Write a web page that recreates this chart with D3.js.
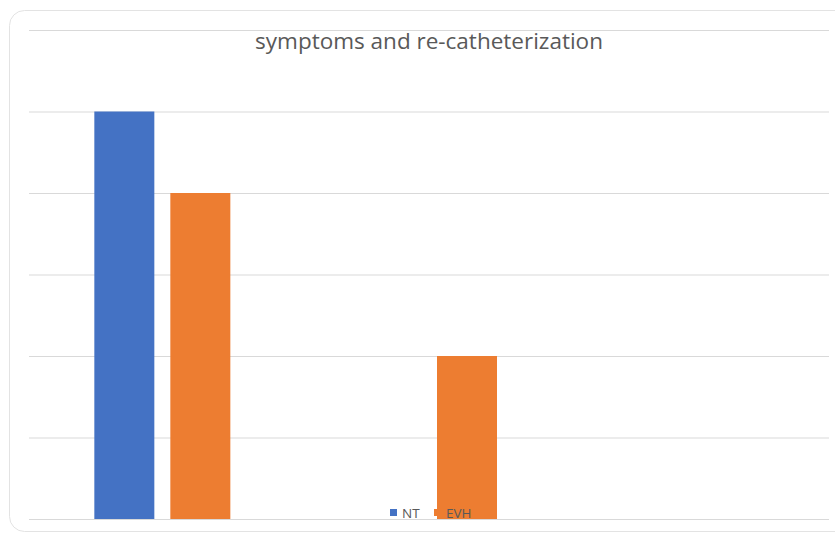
<!DOCTYPE html>
<html>
<head>
<meta charset="utf-8">
<script src="https://cdn.jsdelivr.net/npm/d3@7"></script>
<style>
  html, body { margin: 0; padding: 0; background: #fff; }
  svg { display: block; }
</style>
</head>
<body>
<svg id="chart" width="835" height="533"></svg>
<script>
// Chart data
const title = "symptoms and re-catheterization";
const categories = ["A", "B", "C"];
const seriesNames = ["NT", "EVH"];
const ntValues = [5, 0, 0];
const evhValues = [4, 2, 0];
const yTicks = [0, 1, 2, 3, 4, 5, 6];
const colors = ["#4472C4", "#ED7D31"];

const plot = { left: 29, right: 829, top: 30, bottom: 519 };

const svg = d3.select("#chart");

// Chart frame with rounded corners
svg.append("rect")
  .attr("x", 9.5).attr("y", 10.5)
  .attr("width", 850).attr("height", 521)
  .attr("rx", 15).attr("ry", 15)
  .attr("fill", "#fff")
  .attr("stroke", "#e3e3e3")
  .attr("stroke-width", 1);

const x0 = d3.scaleBand()
  .domain(categories)
  .range([plot.left, plot.right])
  .paddingInner(0).paddingOuter(0);

// Bars are 60px wide with a 16px gap inside each group
const barW = 60, barGap = 16;
const groupW = barW * 2 + barGap;
const x1 = d3.scaleOrdinal()
  .domain(seriesNames)
  .range([0, barW + barGap]);

const y = d3.scaleLinear()
  .domain([0, 6])
  .range([plot.bottom, plot.top]);

// Horizontal gridlines
const yAxis = d3.axisLeft(y)
  .tickValues(yTicks)
  .tickSize(-(plot.right - plot.left))
  .tickFormat("");
const gAxis = svg.append("g")
  .attr("transform", `translate(${plot.left},0)`)
  .call(yAxis);
gAxis.select(".domain").remove();
gAxis.selectAll(".tick line")
  .attr("stroke", "#d9d9d9")
  .attr("stroke-width", 1.2);

// Bars
const rows = categories.map((c, i) => ({
  cat: c,
  values: [
    { name: seriesNames[0], v: ntValues[i] },
    { name: seriesNames[1], v: evhValues[i] }
  ]
}));

const groups = svg.append("g").selectAll("g")
  .data(rows)
  .join("g")
  .attr("transform", d => `translate(${x0(d.cat) + (x0.bandwidth() - groupW) / 2},0)`);

groups.selectAll("rect")
  .data(d => d.values.filter(e => e.v > 0))
  .join("rect")
  .attr("x", d => x1(d.name))
  .attr("y", d => y(d.v))
  .attr("width", barW)
  .attr("height", d => y(0) - y(d.v))
  .attr("fill", (d) => colors[seriesNames.indexOf(d.name)]);

// Title
svg.append("text")
  .attr("x", 429)
  .attr("y", 49)
  .attr("text-anchor", "middle")
  .attr("font-family", "'Open Sans', 'Liberation Sans', sans-serif")
  .attr("font-size", 22.5)
  .attr("fill", "#595959")
  .text(title);

// Legend
const legend = svg.append("g").attr("transform", "translate(390,0)");
const legendItems = [
  { name: seriesNames[0], color: colors[0], x: 0 },
  { name: seriesNames[1], color: colors[1], x: 44 }
];
const li = legend.selectAll("g")
  .data(legendItems)
  .join("g")
  .attr("transform", d => `translate(${d.x},0)`);
li.append("rect")
  .attr("x", 0).attr("y", 509)
  .attr("width", 7).attr("height", 7)
  .attr("fill", d => d.color);
li.append("text")
  .attr("x", 12).attr("y", 518)
  .attr("font-family", "'Open Sans', 'Liberation Sans', sans-serif")
  .attr("font-size", 13.5)
  .attr("fill", "#595959")
  .text(d => d.name);
</script>
</body>
</html>
